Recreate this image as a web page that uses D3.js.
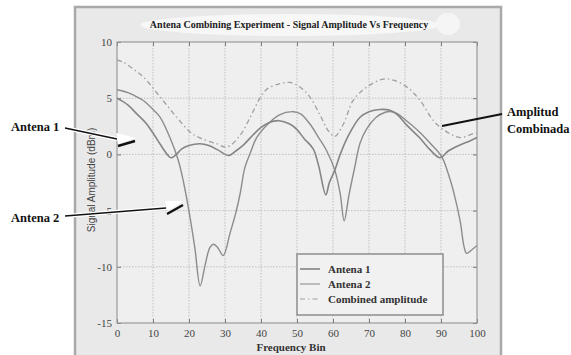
<!DOCTYPE html>
<html>
<head>
<meta charset="utf-8">
<script src="https://cdn.jsdelivr.net/npm/d3@7"></script>
<style>
  body { margin: 0; background: #fff; }
  svg { display: block; }
  .serif { font-family: "Liberation Serif", "Times New Roman", Times, serif; }
  .sans { font-family: "Liberation Sans", Arial, sans-serif; }
</style>
</head>
<body>
<div id="chart"></div>
<script>
// values
var titleText = "Antena Combining Experiment - Signal Amplitude Vs Frequency";
var xTicks = [0, 10, 20, 30, 40, 50, 60, 70, 80, 90, 100];
var yTicks = [-15, -10, -5, 0, 5, 10];
var legendLabels = ["Antena 1", "Antena 2", "Combined amplitude"];

var freq1 = [0, 3, 5.5, 8, 10, 12, 14.2, 15, 16.5, 18, 20, 23, 25.5, 28, 31, 33, 35, 38, 40, 42, 45, 48, 50, 52, 54.5, 56, 58, 59, 60.5, 62, 64, 67.5, 70, 73, 76, 78, 80.5, 84, 87, 89.7, 92, 95, 98, 100];
var antena1 = [5.0, 4.4, 3.6, 2.8, 1.9, 0.9, -0.1, -0.3, 0.0, 0.5, 0.8, 0.95, 0.8, 0.4, -0.1, 0.3, 0.8, 1.8, 2.4, 2.8, 3.0, 2.7, 2.2, 1.4, 0.5, -1.0, -3.6, -2.5, -1.4, 0.0, 1.5, 3.3, 3.8, 4.0, 3.9, 3.5, 2.6, 1.5, 0.4, -0.3, 0.3, 0.8, 1.2, 1.5];

var freq2 = [0, 3, 5, 7.3, 10, 12, 14.7, 17, 18.5, 19.8, 21, 21.7, 23.1, 24.5, 25.8, 26.8, 28, 29.5, 31.4, 33, 34.2, 35.5, 37, 38.8, 41.6, 45, 49, 51, 53.6, 56, 58.2, 60.5, 62, 63.1, 64.5, 66, 67.5, 69.4, 72, 74.5, 76.3, 78, 80, 84, 87, 90.2, 92, 93.4, 95.3, 96.4, 97.1, 98.5, 100];
var antena2 = [5.75, 5.5, 5.2, 4.8, 4.0, 3.3, 1.5, -0.5, -2.5, -4.7, -7.0, -8.5, -11.7, -9.8, -8.3, -8.0, -8.3, -9.0, -7.0, -5.2, -3.5, -1.2, 0.1, 1.5, 2.6, 3.5, 3.8, 3.6, 2.7, 1.5, 0.35, -1.4, -3.5, -5.9, -3.5, -1.2, 1.0, 2.3, 3.3, 3.75, 3.8, 3.6, 3.1, 2.0, 1.0, -0.2, -1.7, -3.2, -5.9, -8.2, -8.8, -8.5, -8.1];

var freqC = [0, 1.75, 4.5, 7.3, 12, 16.6, 20.3, 23.5, 27.7, 30.5, 34.2, 37, 39.7, 41.6, 45.3, 48, 50.8, 53.6, 56.4, 58.7, 60.5, 62.9, 65.6, 69.4, 74, 76.8, 80.5, 84.2, 87.9, 91.6, 95.3, 99, 100];
var combined = [8.4, 8.2, 7.6, 6.9, 5.1, 3.3, 2.0, 1.4, 0.95, 0.65, 1.7, 3.3, 5.0, 5.8, 6.3, 6.4, 6.0, 5.1, 3.5, 2.1, 1.6, 2.7, 4.8, 6.0, 6.7, 6.6, 6.0, 4.8, 3.0, 2.0, 1.5, 1.85, 1.9];

function drawChart() {

    var width = 571, height = 355;
    var plot = {left: 117, right: 477, top: 42, bottom: 323};

    var svg = d3.select("#chart").append("svg")
        .attr("width", width)
        .attr("height", height);

    // figure frame (gray scanned panel)
    svg.append("rect")
        .attr("x", 75).attr("y", 7)
        .attr("width", 426).attr("height", 352)
        .attr("fill", "#e9e9e9")
        .attr("stroke", "#a9a9a9")
        .attr("stroke-width", 2.5);

    // whitish patches behind title (scan artifacts)
    svg.append("ellipse")
        .attr("cx", 290).attr("cy", 25).attr("rx", 150).attr("ry", 11)
        .attr("fill", "#f7f7f7");
    svg.append("ellipse")
        .attr("cx", 448).attr("cy", 24).attr("rx", 12).attr("ry", 11)
        .attr("fill", "#f5f5f5");

    var x = d3.scaleLinear().domain([0, 100]).range([plot.left, plot.right]);
    var y = d3.scaleLinear().domain([-15, 10]).range([plot.bottom, plot.top]);

    svg.append("rect")
        .attr("x", plot.left).attr("y", plot.top)
        .attr("width", plot.right - plot.left).attr("height", plot.bottom - plot.top)
        .attr("fill", "#efefef");

    // dotted grid
    var grid = svg.append("g")
        .attr("stroke", "#b4b4b4")
        .attr("stroke-width", 0.8)
        .attr("stroke-dasharray", "1.5,1.5");
    grid.selectAll("line.vx")
        .data(xTicks.slice(1, -1))
        .join("line")
        .attr("x1", d => x(d)).attr("x2", d => x(d))
        .attr("y1", plot.top).attr("y2", plot.bottom);
    grid.selectAll("line.hy")
        .data(yTicks.slice(1, -1))
        .join("line")
        .attr("x1", plot.left).attr("x2", plot.right)
        .attr("y1", d => y(d)).attr("y2", d => y(d));

    // axes with inward ticks, plain hyphen minus like the original
    var fmt = d => String(d);
    svg.append("g")
        .attr("transform", `translate(0,${plot.bottom})`)
        .call(d3.axisBottom(x).tickValues(xTicks).tickFormat(fmt).tickSize(-4).tickPadding(6).tickSizeOuter(0))
        .call(g => g.select(".domain").remove());
    svg.append("g")
        .attr("transform", `translate(0,${plot.top})`)
        .call(d3.axisTop(x).tickValues(xTicks).tickSize(-4).tickFormat("").tickSizeOuter(0))
        .call(g => g.select(".domain").remove());
    svg.append("g")
        .attr("transform", `translate(${plot.left},0)`)
        .call(d3.axisLeft(y).tickValues(yTicks).tickFormat(fmt).tickSize(-4).tickPadding(5).tickSizeOuter(0))
        .call(g => g.select(".domain").remove());
    svg.append("g")
        .attr("transform", `translate(${plot.right},0)`)
        .call(d3.axisRight(y).tickValues(yTicks).tickSize(-4).tickFormat("").tickSizeOuter(0))
        .call(g => g.select(".domain").remove());

    svg.selectAll(".tick line").attr("stroke", "#777");
    svg.selectAll(".tick text")
        .attr("class", "serif")
        .attr("font-family", null)
        .style("font-size", "11px")
        .attr("fill", "#444");

    svg.append("rect")
        .attr("x", plot.left).attr("y", plot.top)
        .attr("width", plot.right - plot.left).attr("height", plot.bottom - plot.top)
        .attr("fill", "none")
        .attr("stroke", "#9a9a9a")
        .attr("stroke-width", 1.2);

    // curves
    var line = d3.line()
        .x(d => x(d[0]))
        .y(d => y(d[1]))
        .curve(d3.curveCatmullRom.alpha(0.5));

    svg.append("clipPath").attr("id", "plotclip")
        .append("rect")
        .attr("x", plot.left).attr("y", plot.top)
        .attr("width", plot.right - plot.left).attr("height", plot.bottom - plot.top);

    var curves = svg.append("g").attr("clip-path", "url(#plotclip)").attr("fill", "none");

    curves.append("path")
        .attr("d", line(d3.zip(freqC, combined)))
        .attr("stroke", "#a0a0a0")
        .attr("stroke-width", 1.3)
        .attr("stroke-dasharray", "5,3,1.5,3");
    curves.append("path")
        .attr("d", line(d3.zip(freq2, antena2)))
        .attr("stroke", "#8c8c8c")
        .attr("stroke-width", 1.4);
    curves.append("path")
        .attr("d", line(d3.zip(freq1, antena1)))
        .attr("stroke", "#858585")
        .attr("stroke-width", 1.6);

    // title and axis labels
    svg.append("text")
        .attr("class", "serif")
        .attr("x", 289).attr("y", 28)
        .attr("text-anchor", "middle")
        .style("font-weight", "bold")
        .style("font-size", "10px")
        .attr("fill", "#222")
        .text(titleText);

    svg.append("text")
        .attr("class", "serif")
        .attr("x", 291).attr("y", 351)
        .attr("text-anchor", "middle")
        .style("font-weight", "bold")
        .style("font-size", "11px")
        .attr("fill", "#333")
        .text("Frequency Bin");

    svg.append("text")
        .attr("class", "sans")
        .attr("transform", "translate(95,180) rotate(-90)")
        .attr("text-anchor", "middle")
        .style("font-size", "10px")
        .attr("fill", "#444")
        .text("Signal Amplitude (dBm)");

    // legend
    var lg = svg.append("g").attr("transform", "translate(297,254)");
    lg.append("rect")
        .attr("width", 146).attr("height", 61)
        .attr("fill", "#f1f1f1")
        .attr("stroke", "#8e8e8e")
        .attr("stroke-width", 1.5);
    var styles = [
        {stroke: "#858585", width: 1.6, dash: null},
        {stroke: "#9a9a9a", width: 1.2, dash: null},
        {stroke: "#a0a0a0", width: 1.2, dash: "5,3,1.5,3"}
    ];
    var item = lg.selectAll("g.item")
        .data(legendLabels)
        .join("g")
        .attr("transform", (d, i) => `translate(0,${15 + i * 15})`);
    item.append("line")
        .attr("x1", 3).attr("x2", 23)
        .attr("stroke", (d, i) => styles[i].stroke)
        .attr("stroke-width", (d, i) => styles[i].width)
        .attr("stroke-dasharray", (d, i) => styles[i].dash);
    item.append("text")
        .attr("class", "serif")
        .attr("x", 31).attr("y", 4)
        .style("font-weight", "bold")
        .style("font-size", "11px")
        .attr("fill", "#333")
        .text(d => d);

    // pasted annotations with arrows
    var notes = svg.append("g")
        .attr("class", "serif")
        .style("font-weight", "bold")
        .style("font-size", "12.5px")
        .attr("fill", "#111");
    notes.append("text").attr("x", 11).attr("y", 131).text("Antena 1");
    notes.append("text").attr("x", 11).attr("y", 222).text("Antena 2");
    notes.append("text").attr("x", 507).attr("y", 116).text("Amplitud");
    notes.append("text").attr("x", 507).attr("y", 133).text("Combinada");

    var arrows = [
        {from: [65, 128], to: [117, 139], head: [[116, 133], [136, 138], [118, 144]], bar: [[118, 146], [135, 141]]},
        {from: [65, 216], to: [166, 208], head: [[165, 201], [183, 201], [168, 211]], bar: [[167, 214], [183, 205]]}
    ];
    arrows.forEach(function(a) {
        svg.append("line")
            .attr("x1", a.from[0]).attr("y1", a.from[1])
            .attr("x2", a.to[0]).attr("y2", a.to[1])
            .attr("stroke", "#fff").attr("stroke-width", 4);
        svg.append("line")
            .attr("x1", a.from[0]).attr("y1", a.from[1])
            .attr("x2", a.to[0]).attr("y2", a.to[1])
            .attr("stroke", "#111").attr("stroke-width", 1.4);
        svg.append("polygon")
            .attr("points", a.head.map(p => p.join(",")).join(" "))
            .attr("fill", "#fff");
        svg.append("line")
            .attr("x1", a.bar[0][0]).attr("y1", a.bar[0][1])
            .attr("x2", a.bar[1][0]).attr("y2", a.bar[1][1])
            .attr("stroke", "#111").attr("stroke-width", 2.4);
    });
    svg.append("line")
        .attr("x1", 442).attr("y1", 126)
        .attr("x2", 502).attr("y2", 114)
        .attr("stroke", "#111").attr("stroke-width", 2);
}

drawChart();
</script>
</body>
</html>
